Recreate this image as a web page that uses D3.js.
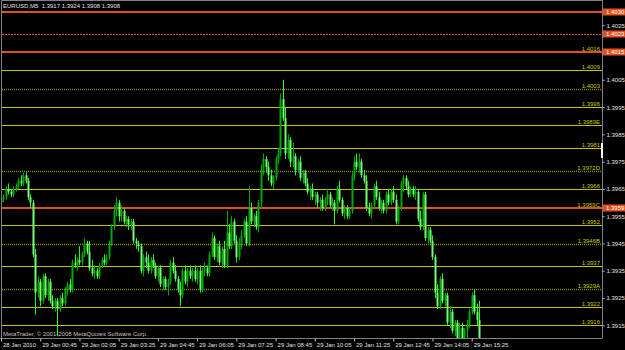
<!DOCTYPE html>
<html>
<head>
<meta charset="utf-8">
<script src="https://cdn.jsdelivr.net/npm/d3@7"></script>
<style>
body { margin: 0; background: #000; }
svg { display: block; }
text { font-family: "Liberation Sans", Arial, sans-serif; font-size: 6px; }
</style>
</head>
<body>
<script>
// EURUSD M5, 28 Jan 2010 23:25 .. 29 Jan 2010 15:40
var opens = [
  1.3960,1.3961,1.3962,1.3965,1.3964,1.3963,1.3965,1.3966,1.3968,1.3967,
  1.3970,1.3968,1.3962,1.3960,1.3941,1.3927,1.3931,1.3924,1.3933,1.3926,
  1.3931,1.3924,1.3922,1.3924,1.3921,1.3925,1.3923,1.3928,1.3930,1.3928,
  1.3938,1.3937,1.3939,1.3938,1.3941,1.3945,1.3942,1.3936,1.3934,1.3935,
  1.3933,1.3937,1.3939,1.3938,1.3940,1.3945,1.3951,1.3957,1.3960,1.3955,
  1.3957,1.3953,1.3954,1.3952,1.3953,1.3946,1.3945,1.3944,1.3935,1.3940,
  1.3938,1.3935,1.3939,1.3937,1.3933,1.3936,1.3930,1.3932,1.3929,1.3931,
  1.3938,1.3935,1.3932,1.3928,1.3926,1.3935,1.3931,1.3935,1.3933,1.3935,
  1.3932,1.3935,1.3928,1.3935,1.3936,1.3934,1.3941,1.3947,1.3940,1.3944,
  1.3938,1.3943,1.3937,1.3949,1.3944,1.3953,1.3946,1.3940,1.3945,1.3948,
  1.3953,1.3945,1.3958,1.3953,1.3955,1.3951,1.3960,1.3972,1.3976,1.3973,
  1.3970,1.3967,1.3969,1.3976,1.3978,1.3998,1.3991,1.3978,1.3983,1.3975,
  1.3977,1.3972,1.3975,1.3969,1.3971,1.3967,1.3964,1.3965,1.3962,1.3963,
  1.3960,1.3961,1.3958,1.3961,1.3963,1.3959,1.3960,1.3957,1.3965,1.3961,
  1.3956,1.3958,1.3955,1.3957,1.3970,1.3975,1.3973,1.3975,1.3970,1.3968,
  1.3958,1.3956,1.3959,1.3966,1.3962,1.3958,1.3960,1.3957,1.3963,1.3960,
  1.3964,1.3961,1.3953,1.3958,1.3967,1.3969,1.3966,1.3963,1.3965,1.3963,
  1.3964,1.3954,1.3951,1.3963,1.3947,1.3950,1.3946,1.3940,1.3927,1.3922,
  1.3932,1.3924,1.3926,1.3916,1.3920,1.3913,1.3916,1.3909,1.3914,1.3908,
  1.3913,1.3915,1.3920,1.3926,1.3920,1.3917
];
var highs = [
  1.3962,1.3963,1.3966,1.3967,1.3965,1.3966,1.3967,1.3969,1.3970,1.3971,
  1.3971,1.3969,1.3963,1.3961,1.3943,1.3933,1.3932,1.3934,1.3934,1.3932,
  1.3932,1.3926,1.3925,1.3925,1.3926,1.3927,1.3929,1.3931,1.3932,1.3939,
  1.3941,1.3940,1.3944,1.3942,1.3947,1.3946,1.3946,1.3939,1.3937,1.3936,
  1.3938,1.3940,1.3941,1.3941,1.3946,1.3952,1.3959,1.3962,1.3961,1.3959,
  1.3958,1.3955,1.3955,1.3954,1.3954,1.3947,1.3946,1.3945,1.3941,1.3942,
  1.3941,1.3940,1.3941,1.3938,1.3937,1.3937,1.3933,1.3933,1.3932,1.3939,
  1.3940,1.3937,1.3933,1.3931,1.3936,1.3937,1.3936,1.3937,1.3936,1.3937,
  1.3936,1.3937,1.3936,1.3938,1.3937,1.3942,1.3949,1.3948,1.3945,1.3946,
  1.3944,1.3946,1.3957,1.3952,1.3955,1.3954,1.3948,1.3947,1.3950,1.3954,
  1.3955,1.3966,1.3960,1.3956,1.3957,1.3961,1.3974,1.3978,1.3977,1.3975,
  1.3972,1.3970,1.3977,1.3980,1.4000,1.4005,1.3995,1.3985,1.3984,1.3982,
  1.3978,1.3976,1.3977,1.3972,1.3972,1.3969,1.3966,1.3967,1.3964,1.3964,
  1.3962,1.3963,1.3962,1.3965,1.3964,1.3962,1.3961,1.3966,1.3968,1.3962,
  1.3959,1.3959,1.3958,1.3971,1.3977,1.3978,1.3978,1.3976,1.3972,1.3970,
  1.3960,1.3960,1.3967,1.3968,1.3964,1.3961,1.3961,1.3964,1.3965,1.3965,
  1.3966,1.3963,1.3959,1.3968,1.3970,1.3970,1.3968,1.3966,1.3966,1.3966,
  1.3965,1.3957,1.3964,1.3964,1.3951,1.3951,1.3948,1.3941,1.3930,1.3933,
  1.3934,1.3927,1.3927,1.3922,1.3921,1.3917,1.3917,1.3916,1.3916,1.3914,
  1.3917,1.3921,1.3927,1.3928,1.3923,1.3924
];
var lows = [
  1.3959,1.3960,1.3961,1.3963,1.3962,1.3962,1.3964,1.3965,1.3966,1.3966,
  1.3967,1.3961,1.3958,1.3940,1.3919,1.3925,1.3922,1.3923,1.3925,1.3924,
  1.3923,1.3921,1.3920,1.3911,1.3920,1.3922,1.3922,1.3926,1.3927,1.3927,
  1.3936,1.3935,1.3937,1.3937,1.3940,1.3941,1.3935,1.3933,1.3932,1.3932,
  1.3932,1.3936,1.3937,1.3937,1.3939,1.3944,1.3950,1.3955,1.3953,1.3953,
  1.3952,1.3951,1.3950,1.3950,1.3945,1.3943,1.3942,1.3934,1.3933,1.3936,
  1.3934,1.3934,1.3936,1.3932,1.3931,1.3929,1.3928,1.3928,1.3926,1.3930,
  1.3934,1.3931,1.3927,1.3922,1.3925,1.3930,1.3929,1.3932,1.3931,1.3931,
  1.3930,1.3927,1.3927,1.3933,1.3933,1.3933,1.3940,1.3939,1.3938,1.3937,
  1.3936,1.3936,1.3936,1.3943,1.3943,1.3945,1.3938,1.3939,1.3943,1.3947,
  1.3944,1.3944,1.3952,1.3951,1.3950,1.3949,1.3958,1.3970,1.3971,1.3968,
  1.3966,1.3965,1.3968,1.3974,1.3977,1.3990,1.3976,1.3976,1.3973,1.3973,
  1.3970,1.3971,1.3968,1.3967,1.3966,1.3963,1.3961,1.3961,1.3959,1.3958,
  1.3957,1.3957,1.3957,1.3959,1.3958,1.3957,1.3952,1.3956,1.3960,1.3955,
  1.3954,1.3954,1.3954,1.3956,1.3968,1.3972,1.3971,1.3969,1.3967,1.3957,
  1.3955,1.3954,1.3958,1.3961,1.3957,1.3956,1.3956,1.3956,1.3959,1.3959,
  1.3960,1.3952,1.3952,1.3957,1.3964,1.3965,1.3962,1.3962,1.3962,1.3961,
  1.3953,1.3950,1.3950,1.3946,1.3945,1.3945,1.3939,1.3925,1.3921,1.3921,
  1.3923,1.3922,1.3915,1.3914,1.3912,1.3911,1.3908,1.3906,1.3907,1.3906,
  1.3910,1.3914,1.3919,1.3919,1.3915,1.3908
];
var closes = [
  1.3961,1.3962,1.3965,1.3964,1.3963,1.3965,1.3966,1.3968,1.3967,1.3970,
  1.3968,1.3962,1.3960,1.3941,1.3927,1.3931,1.3924,1.3933,1.3926,1.3931,
  1.3924,1.3922,1.3924,1.3921,1.3925,1.3923,1.3928,1.3930,1.3928,1.3938,
  1.3937,1.3939,1.3938,1.3941,1.3945,1.3942,1.3936,1.3934,1.3935,1.3933,
  1.3937,1.3939,1.3938,1.3940,1.3945,1.3951,1.3957,1.3960,1.3955,1.3957,
  1.3953,1.3954,1.3952,1.3953,1.3946,1.3945,1.3944,1.3935,1.3940,1.3938,
  1.3935,1.3939,1.3937,1.3933,1.3936,1.3930,1.3932,1.3929,1.3931,1.3938,
  1.3935,1.3932,1.3928,1.3926,1.3935,1.3931,1.3935,1.3933,1.3935,1.3932,
  1.3935,1.3928,1.3935,1.3936,1.3934,1.3941,1.3947,1.3940,1.3944,1.3938,
  1.3943,1.3937,1.3949,1.3944,1.3953,1.3946,1.3940,1.3945,1.3948,1.3953,
  1.3945,1.3958,1.3953,1.3955,1.3951,1.3960,1.3972,1.3976,1.3973,1.3970,
  1.3967,1.3969,1.3976,1.3978,1.3998,1.3991,1.3978,1.3983,1.3975,1.3977,
  1.3972,1.3975,1.3969,1.3971,1.3967,1.3964,1.3965,1.3962,1.3963,1.3960,
  1.3961,1.3958,1.3961,1.3963,1.3959,1.3960,1.3957,1.3965,1.3961,1.3956,
  1.3958,1.3955,1.3957,1.3970,1.3975,1.3973,1.3975,1.3970,1.3968,1.3958,
  1.3956,1.3959,1.3966,1.3962,1.3958,1.3960,1.3957,1.3963,1.3960,1.3964,
  1.3961,1.3953,1.3958,1.3967,1.3969,1.3966,1.3963,1.3965,1.3963,1.3964,
  1.3954,1.3951,1.3963,1.3947,1.3950,1.3946,1.3940,1.3927,1.3922,1.3932,
  1.3924,1.3926,1.3916,1.3920,1.3913,1.3916,1.3909,1.3914,1.3908,1.3913,
  1.3915,1.3920,1.3926,1.3920,1.3917,1.3908
];

// time axis: one label every 16 bars
var timeTicks = [0, 16, 32, 48, 64, 80, 96, 112, 128, 144, 160, 176, 192];
var timeLabels = ["28 Jan 2010", "29 Jan 00:45", "29 Jan 02:05", "29 Jan 03:25", "29 Jan 04:45",
  "29 Jan 06:05", "29 Jan 07:25", "29 Jan 08:45", "29 Jan 10:05", "29 Jan 11:25",
  "29 Jan 12:45", "29 Jan 14:05", "29 Jan 15:25"];

var priceTicks = [1.4025, 1.4015, 1.4005, 1.3995, 1.3985, 1.3975, 1.3965, 1.3955, 1.3945, 1.3935, 1.3925, 1.3915];

// horizontal levels
var dayLevels = [1.40298, 1.40219, 1.40152, 1.39581];
var dayLabels = ["1.4030", "1.4023", "1.4015", "1.3959"];
var pivotLevels = [1.40152, 1.40085, 1.39949, 1.39883, 1.39799, 1.39649, 1.39581, 1.39518, 1.39366, 1.39216, 1.39150, 1.39085];
var pivotLabels = ["1.4016", "1.4009", "1.3996", "1.3989E", "1.3981", "1.3966", "1.3959C", "1.3952", "1.3937", "1.3922", "1.3916", "1.3909"];
var zoneLevels = [1.40018, 1.39717, 1.39449, 1.39283];
var zoneLabels = ["1.4003", "1.3972D", "1.3946B", "1.3929A"];

var title = "EURUSD,M5  1.3917 1.3924 1.3908 1.3908";
var credit = "MetaTrader, \u00a9 2001-2008 MetaQuotes Software Corp.";

var w = 625, h = 350,
    padL = 2, padR = 602, padT = 1, padB = 338;

var svg = d3.select("body").append("svg")
    .attr("width", w)
    .attr("height", h);

svg.append("rect")
    .attr("width", w)
    .attr("height", h)
    .attr("fill", "#000");

var x = d3.scaleLinear().domain([0, 192]).range([1, 471.7]);
var y = d3.scaleLinear().domain([1.3915, 1.4025]).range([325.3, 25.3]);

svg.append("clipPath").attr("id", "plot")
  .append("rect")
    .attr("x", padL).attr("y", padT + 1)
    .attr("width", padR - padL).attr("height", padB - padT - 1);

var plot = svg.append("g").attr("clip-path", "url(#plot)");

function ly(d) { return Math.round(y(d)) + 0.5; }

// levels
plot.append("g").selectAll("line")
    .data(zoneLevels)
  .enter().append("line")
    .attr("x1", padL).attr("x2", padR)
    .attr("y1", ly).attr("y2", ly)
    .attr("stroke", "#8c8c00")
    .attr("stroke-width", 1.4)
    .attr("stroke-dasharray", "1,1");

plot.append("g").selectAll("line")
    .data(pivotLevels)
  .enter().append("line")
    .attr("x1", padL).attr("x2", padR)
    .attr("y1", ly).attr("y2", ly)
    .attr("stroke", "#c4c400");

plot.append("g").selectAll("line")
    .data(dayLevels)
  .enter().append("line")
    .attr("x1", padL).attr("x2", padR)
    .attr("y1", function(d, i) { return i == 1 ? ly(d) : Math.round(y(d)); })
    .attr("y2", function(d, i) { return i == 1 ? ly(d) : Math.round(y(d)); })
    .attr("stroke", "#e0501c")
    .attr("stroke-width", function(d, i) { return i == 1 ? 1 : 2; })
    .attr("stroke-dasharray", function(d, i) { return i == 1 ? "2,1" : null; });

// level labels sit right-aligned just above their lines
var lab = plot.append("g").attr("text-anchor", "end").attr("fill", "#c8c800");
lab.selectAll(".p")
    .data(pivotLevels)
  .enter().append("text")
    .attr("x", padR - 2)
    .attr("y", function(d) { return Math.round(y(d)) - 1; })
    .text(function(d, i) { return pivotLabels[i]; });
lab.selectAll(".z")
    .data(zoneLevels)
  .enter().append("text")
    .attr("x", padR - 2)
    .attr("y", function(d) { return Math.round(y(d)) - 1; })
    .text(function(d, i) { return zoneLabels[i]; });

// candles
var bars = plot.append("g").selectAll("g")
    .data(d3.range(closes.length))
  .enter().append("g");

bars.append("line")
    .attr("x1", function(i) { return Math.round(x(i)) + 0.5; })
    .attr("x2", function(i) { return Math.round(x(i)) + 0.5; })
    .attr("y1", function(i) { return y(highs[i]); })
    .attr("y2", function(i) { return y(lows[i]); })
    .attr("stroke", function(i) { return closes[i] < opens[i] ? "#22ff22" : "#00aa00"; });

bars.append("rect")
    .attr("x", function(i) { return Math.round(x(i)) - 0.5; })
    .attr("width", 2)
    .attr("y", function(i) { return y(Math.max(opens[i], closes[i])); })
    .attr("height", function(i) { return Math.max(1, Math.abs(y(opens[i]) - y(closes[i]))); })
    .attr("fill", function(i) { return closes[i] < opens[i] ? "#70ff70" : "#00aa00"; });

plot.append("text")
    .attr("x", 3).attr("y", 336)
    .attr("fill", "#c0c0c0")
    .text(credit);

// frame
svg.append("path")
    .attr("d", "M1.5," + padB + "V0.5H" + padR)
    .attr("fill", "none")
    .attr("stroke", "#808080");

// price axis
var ya = svg.append("g")
    .attr("transform", "translate(" + (padR + 0.5) + ",0)")
    .call(d3.axisRight(y).tickValues(priceTicks).tickSize(2).tickPadding(2).tickFormat(d3.format(".4f")));
ya.select(".domain").attr("stroke", "#808080").attr("d", "M0,0V" + padB);
ya.selectAll(".tick line").attr("stroke", "#c0c0c0");
ya.selectAll("text").attr("fill", "#e0e0e0").style("font-size", "6px").style("font-family", "Liberation Sans, Arial, sans-serif");

svg.append("rect")
    .attr("x", padR - 1).attr("y", 143)
    .attr("width", 2).attr("height", 15)
    .attr("fill", "#fff");

// price markers for the orange levels
var mk = svg.append("g").selectAll("g")
    .data(dayLevels)
  .enter().append("g")
    .attr("transform", function(d) { return "translate(" + (padR + 1) + "," + Math.round(y(d)) + ")"; });
mk.append("rect")
    .attr("y", -3.5).attr("width", w - padR).attr("height", 7)
    .attr("fill", "#e0501c");
mk.append("text")
    .attr("x", 3).attr("y", 2.2)
    .attr("fill", "#fff")
    .text(function(d, i) { return dayLabels[i]; });

// time axis
var xa = svg.append("g")
    .attr("transform", "translate(0," + (padB + 0.5) + ")")
    .call(d3.axisBottom(x).tickValues(timeTicks).tickSize(3).tickFormat(function(d, i) { return timeLabels[i]; }));
xa.select(".domain").attr("stroke", "#808080").attr("d", "M0,0H" + (padR + 0.5));
xa.selectAll(".tick line").attr("stroke", "#c0c0c0");
xa.selectAll("text")
    .attr("text-anchor", "start").attr("dx", 1.5).attr("y", 4)
    .attr("fill", "#e0e0e0").style("font-size", "6px").style("font-family", "Liberation Sans, Arial, sans-serif");

svg.append("text")
    .attr("x", 3).attr("y", 8)
    .attr("fill", "#e0e0e0")
    .attr("xml:space", "preserve")
    .text(title);
</script>
</body>
</html>
